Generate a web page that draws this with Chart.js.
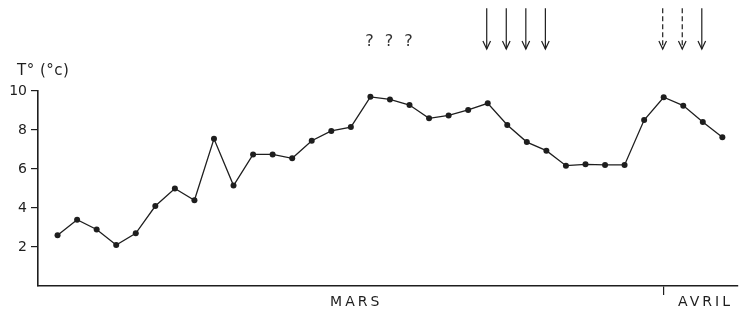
<!DOCTYPE html>
<html>
<head>
<meta charset="utf-8">
<script src="https://cdn.jsdelivr.net/npm/chart.js@4/dist/chart.umd.min.js"></script>
<style>
  html, body { margin: 0; padding: 0; background: #fff; }
  canvas { display: block; }
</style>
</head>
<body>
<canvas id="tempChart" width="742" height="312"></canvas>
<script>
// =====================================================================
//  Data (day 1 = 1 March, day 32 = 1 April)
// =====================================================================
const days = [1, 2, 3, 4, 5, 6, 7, 8, 9, 10, 11, 12, 13, 14, 15, 16, 17, 18,
  19, 20, 21, 22, 23, 24, 25, 26, 27, 28, 29, 30, 31, 32, 33, 34, 35];
const temps = [2.6, 3.4, 2.9, 2.1, 2.7, 4.1, 5.0, 4.4, 7.55, 5.15, 6.75, 6.75,
  6.55, 7.45, 7.95, 8.15, 9.7, 9.57, 9.28, 8.6, 8.75, 9.03, 9.37, 8.26, 7.38,
  6.94, 6.17, 6.24, 6.21, 6.21, 8.51, 9.68, 9.25, 8.41, 7.63];

const yTicks = [2, 4, 6, 8, 10];
const monthLabels = ['MARS', 'AVRIL'];
const monthCenters = [16.2, 34.06];
const monthStart = [32];            // tick mark at 1 April

const solidArrowDays = [23, 24, 25, 26, 34];
const dashedArrowDays = [32, 33];
const questionDays = [17, 18, 19];
const arrowTop = 14.25, arrowBottom = 12.15, questionLevel = 12.5;

const INK = '#1e1e1e';
const FONT = '"DejaVu Sans", sans-serif';

// =====================================================================
//  Overlay: arrows, question marks, month names, axis title
// =====================================================================
function drawArrow(ctx, x, y0, y1, dashed) {
  ctx.strokeStyle = INK;
  ctx.lineWidth = 1.2;
  ctx.setLineDash(dashed ? [5, 3] : []);
  ctx.beginPath();
  ctx.moveTo(x, y0);
  ctx.lineTo(x, y1);
  ctx.stroke();
  ctx.setLineDash([]);
  ctx.beginPath();
  ctx.moveTo(x - 3.8, y1 - 8);
  ctx.lineTo(x, y1);
  ctx.lineTo(x + 3.8, y1 - 8);
  ctx.stroke();
}

const overlayPlugin = {
  id: 'overlay',
  afterDraw(chart) {
    const ctx = chart.ctx;
    const xs = chart.scales.x, ys = chart.scales.y;
    const area = chart.chartArea;
    ctx.save();

    const top = ys.getPixelForValue(arrowTop), bottom = ys.getPixelForValue(arrowBottom);
    solidArrowDays.forEach(d => drawArrow(ctx, xs.getPixelForValue(d) - 1, top, bottom, false));
    dashedArrowDays.forEach(d => drawArrow(ctx, xs.getPixelForValue(d) - 1, top, bottom, true));

    ctx.fillStyle = '#333';
    ctx.font = '16px ' + FONT;
    ctx.textAlign = 'center';
    ctx.textBaseline = 'middle';
    questionDays.forEach(d => ctx.fillText('?', xs.getPixelForValue(d) - 1, ys.getPixelForValue(questionLevel)));

    ctx.fillStyle = INK;
    ctx.font = '14px ' + FONT;
    ctx.letterSpacing = '3px';
    monthLabels.forEach((m, i) => ctx.fillText(m, xs.getPixelForValue(monthCenters[i]) + 1.5, area.bottom + 16));

    ctx.letterSpacing = '0.5px';
    ctx.textAlign = 'left';
    ctx.font = '15px ' + FONT;
    ctx.fillText('T° (°c)', 17, area.top - 20);
    ctx.restore();
  }
};

// =====================================================================
//  Chart
// =====================================================================
new Chart(document.getElementById('tempChart'), {
  type: 'line',
  data: {
    datasets: [{
      data: days.map((d, i) => ({ x: d, y: temps[i] })),
      borderColor: INK, borderWidth: 1.3,
      pointRadius: 3, pointBackgroundColor: INK, pointBorderWidth: 0,
      tension: 0, fill: false
    }]
  },
  options: {
    responsive: false, animation: false,
    layout: { padding: { top: 91, right: 2, left: 0, bottom: 0 } },
    plugins: { legend: { display: false }, tooltip: { enabled: false } },
    scales: {
      x: {
        type: 'linear', min: 0, max: 35.8,
        afterBuildTicks: s => { s.ticks = monthStart.map(v => ({ value: v })); },
        afterFit: s => { s.height = 26; },
        ticks: { autoSkip: false, callback: () => '' },
        grid: { drawOnChartArea: false, drawTicks: true, tickLength: 9, color: INK, lineWidth: 1.2 },
        border: { display: true, color: INK, width: 1.6 }
      },
      y: {
        min: 0, max: 10,
        afterBuildTicks: s => { s.ticks = yTicks.map(v => ({ value: v })); },
        afterFit: s => { s.width = 38; },
        ticks: { color: INK, font: { family: FONT, size: 14 }, padding: 4 },
        grid: { drawOnChartArea: false, drawTicks: true, tickLength: 7, color: INK, lineWidth: 1.2 },
        border: { display: true, color: INK, width: 1.6 }
      }
    }
  },
  plugins: [overlayPlugin]
});
</script>
</body>
</html>
